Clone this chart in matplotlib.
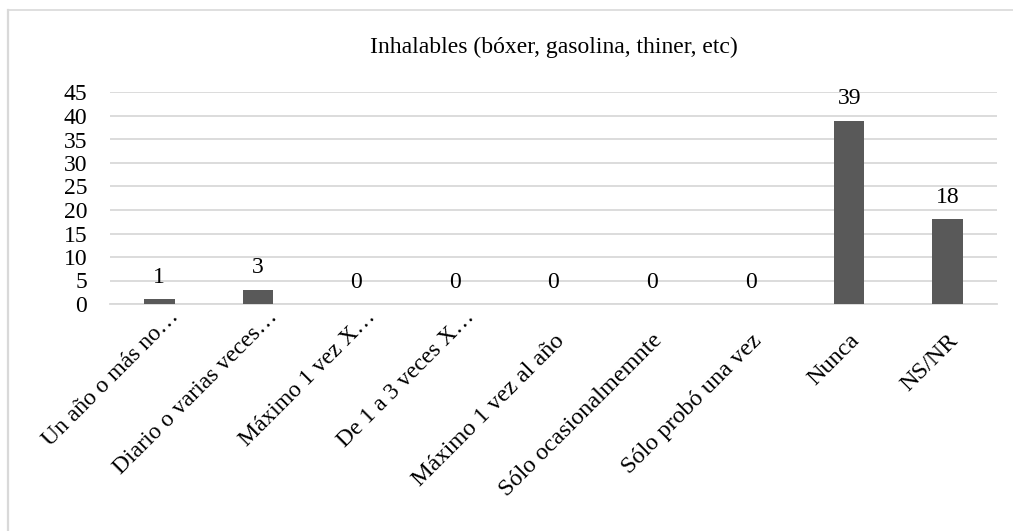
import matplotlib
matplotlib.use("Agg")
import matplotlib.pyplot as plt
import matplotlib.transforms as mtransforms
from matplotlib.lines import Line2D

categories = ["Un año o más no…", "Diario o varias veces…", "Máximo 1 vez X…",
              "De 1 a 3 veces X…", "Máximo 1 vez al año", "Sólo ocasionalmemnte",
              "Sólo probó una vez", "Nunca", "NS/NR"]
values = [1, 3, 0, 0, 0, 0, 0, 39, 18]
yticks = [0, 5, 10, 15, 20, 25, 30, 35, 40, 45]
title = "Inhalables (bóxer, gasolina, thiner, etc)"

W, H = 1013, 531
plt.rcParams['font.family'] = ['Liberation Serif', 'DejaVu Serif']
fig = plt.figure(figsize=(W / 100, H / 100), dpi=100)

L, R, T, B = 110, 997, 92.5, 304
ax = fig.add_axes([L / W, 1 - B / H, (R - L) / W, (B - T) / H])

bar_color = "#595959"
grid_color = "#D9D9D9"
x = list(range(len(categories)))
ax.bar(x, values, width=0.31, color=bar_color, zorder=3)
ax.set_xlim(-0.5, len(categories) - 0.5)
ax.set_ylim(0, 45)
ax.set_yticks(yticks)
ax.set_yticklabels([str(t) for t in yticks], fontsize=17)
ax.tick_params(axis='y', length=0, pad=16.5)
ax.set_xticks([])
for s in ["top", "right", "left"]:
    ax.spines[s].set_visible(False)
ax.spines["bottom"].set_color(grid_color)
ax.spines["bottom"].set_linewidth(1.3)
ax.yaxis.grid(True, color=grid_color, linewidth=1.3, zorder=0)
ax.set_axisbelow(True)

# data labels
for xi, v in zip(x, values):
    off = mtransforms.ScaledTranslation(0, 16.5 / 100, fig.dpi_scale_trans)
    ax.text(xi, v, str(v), ha='center', va='baseline', fontsize=17,
            transform=ax.transData + off, zorder=4)

# category labels
xt = ax.get_xaxis_transform()
for xi, lab in zip(x, categories):
    if lab.endswith("…"):
        dx, ypx, fs = 9, 306, 17
    else:
        dx, ypx, fs = 0, 330, 17.5
    dy = -(ypx - B)
    off = mtransforms.ScaledTranslation(dx / 100, dy / 100, fig.dpi_scale_trans)
    ax.text(xi, 0, lab, rotation=45, rotation_mode='anchor', ha='right', va='top',
            fontsize=fs, transform=xt + off)

# title
fig.text((L + R) / 2 / W, 1 - 47 / H, title, ha='center', va='center', fontsize=17)

# chart border (top and left visible)
fig.add_artist(Line2D([7.5 / W, 1], [1 - 9.5 / H, 1 - 9.5 / H], transform=fig.transFigure,
                      color=grid_color, linewidth=1.2))
fig.add_artist(Line2D([7.5 / W, 7.5 / W], [0, 1 - 9.5 / H], transform=fig.transFigure,
                      color=grid_color, linewidth=1.6))

fig.savefig("out.png", dpi=100, facecolor="white")
